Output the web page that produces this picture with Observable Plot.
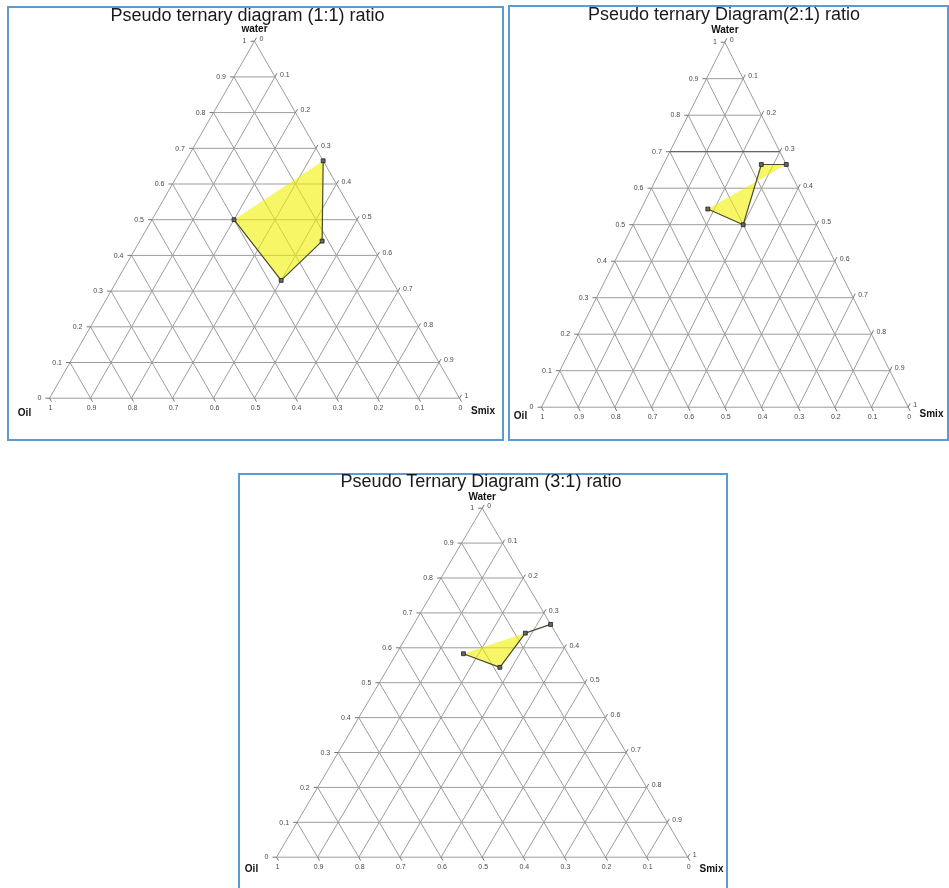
<!DOCTYPE html>
<html>
<head>
<meta charset="utf-8">
<script src="https://cdn.jsdelivr.net/npm/d3@7"></script>
<script src="https://cdn.jsdelivr.net/npm/@observablehq/plot@0.6"></script>
<style>
  html, body { margin: 0; padding: 0; background: #fff; width: 949px; height: 888px; overflow: hidden;
    font-family: "Liberation Sans", Arial, sans-serif; }
  .panel { position: absolute; box-sizing: border-box; border: 2px solid #5b9bd5; background: transparent;
    will-change: transform; }
  .panel svg { position: absolute; left: 0; top: 0; }
  .title { position: absolute; white-space: nowrap; color: #1a1a1a;
    font-size: 18px; line-height: 18px; }
</style>
</head>
<body>
<script>
// Shared tick values for the three composition axes (mass fractions)
const tickValues = [0, 0.1, 0.2, 0.3, 0.4, 0.5, 0.6, 0.7, 0.8, 0.9, 1];
const tickLabels = ["0", "0.1", "0.2", "0.3", "0.4", "0.5", "0.6", "0.7", "0.8", "0.9", "1"];

// Microemulsion region boundary, Smix 1:1
const water11 = [0.665, 0.44, 0.33, 0.50];
const oil11   = [0.0, 0.115, 0.27, 0.30];
const smix11  = [0.335, 0.445, 0.40, 0.20];

// Microemulsion region boundary, Smix 2:1
const water21 = [0.665, 0.665, 0.50, 0.543];
const oil21   = [0.0, 0.068, 0.20, 0.275];
const smix21  = [0.335, 0.267, 0.30, 0.182];

// Microemulsion region boundary, Smix 3:1
const water31 = [0.667, 0.642, 0.544, 0.583];
const oil31   = [0.0, 0.074, 0.185, 0.254];
const smix31  = [0.333, 0.284, 0.271, 0.163];

// Ternary (water, oil, smix) -> cartesian: oil at bottom-left, smix at bottom-right, water on top
function tern(w, o, s) {
  const t = w + o + s;
  return { x: (s + w / 2) / t, y: w / t };
}

function seg(a, b) {
  const p = tern(...a), q = tern(...b);
  return { x1: p.x, y1: p.y, x2: q.x, y2: q.y };
}

const panels = [
  {
    box: { left: 7, top: 6, width: 497, height: 435 },
    xRange: [40, 450], yRange: [389.7, 32.7],
    title: "Pseudo ternary diagram (1:1) ratio", titleX: 238.5, titleTop: -2.24,
    waterName: "water", water: water11, oil: oil11, smix: smix11,
    lab: { top: -12, oil: [-25, 15], smix: [23.5, 13] }
  },
  {
    box: { left: 508, top: 5, width: 441, height: 436 },
    xRange: [31, 397.7], yRange: [399.7, 34.7],
    title: "Pseudo ternary Diagram(2:1) ratio", titleX: 214, titleTop: -1.54,
    waterName: "Water", water: water21, oil: oil21, smix: smix21,
    darkWater: [0.7],
    lab: { top: -12, oil: [-21, 9], smix: [23.3, 7] }
  },
  {
    box: { left: 238, top: 473, width: 490, height: 420 },
    xRange: [36, 447.3], yRange: [381.7, 32.7],
    title: "Pseudo Ternary Diagram (3:1) ratio", titleX: 241, titleTop: -2.94,
    waterName: "Water", water: water31, oil: oil31, smix: smix31,
    lab: { top: -11.6, oil: [-25, 12], smix: [23.7, 12] }
  }
];

const gridColor = "#9c9c9c";
const tickColor = "#666";
const labelColor = "#4a4a4a";

for (const cfg of panels) {
  const div = document.createElement("div");
  div.className = "panel";
  Object.assign(div.style, {
    left: cfg.box.left + "px", top: cfg.box.top + "px",
    width: cfg.box.width + "px", height: cfg.box.height + "px"
  });
  document.body.appendChild(div);

  const W = cfg.box.width - 4, H = cfg.box.height - 4;
  const len = 4 / (cfg.xRange[1] - cfg.xRange[0]);

  // grid lines of constant water, smix and oil (t = 0 gives the triangle edges)
  const inner = tickValues.filter(t => t < 1);
  const grid = [
    ...inner.map(t => seg([t, 1 - t, 0], [t, 0, 1 - t])),
    ...inner.map(t => seg([0, 1 - t, t], [1 - t, 0, t])),
    ...inner.map(t => seg([0, t, 1 - t], [1 - t, t, 0]))
  ];
  const dark = (cfg.darkWater || []).map(t => seg([t, 1 - t, 0], [t, 0, 1 - t]));

  // short tick extensions beyond each edge
  const ticks = [
    ...tickValues.map(t => seg([t, 1 - t, 0], [t, 1 - t + len, -len])),
    ...tickValues.map(t => seg([1 - t, 0, t], [1 - t + len, -len, t])),
    ...tickValues.map(t => seg([0, t, 1 - t], [-len, t, 1 - t + len]))
  ];

  const leftPts = tickValues.map((t, i) => ({ ...tern(t, 1 - t, 0), label: tickLabels[i] }));
  const rightPts = tickValues.map((t, i) => ({ ...tern(1 - t, 0, t), label: tickLabels[i] }));
  const bottomPts = tickValues.map((t, i) => ({ ...tern(0, t, 1 - t), label: tickLabels[i] }));

  const pts = cfg.water.map((w, i) => tern(w, cfg.oil[i], cfg.smix[i]));

  const apex = tern(1, 0, 0), oilCorner = tern(0, 1, 0), smixCorner = tern(0, 0, 1);

  const tickText = { fontSize: 7, fill: labelColor };
  const nameText = { fontSize: 10, fontWeight: "bold", fill: "#111", textAnchor: "middle" };

  const svg = Plot.plot({
    width: W, height: H,
    x: { domain: [0, 1], range: cfg.xRange, axis: null },
    y: { domain: [0, 1], range: cfg.yRange, axis: null },
    style: { background: "transparent", fontFamily: "'Liberation Sans', Arial, sans-serif", overflow: "visible" },
    marks: [
      Plot.link(grid, { x1: "x1", y1: "y1", x2: "x2", y2: "y2", stroke: gridColor, strokeWidth: 1 }),
      Plot.link(dark, { x1: "x1", y1: "y1", x2: "x2", y2: "y2", stroke: "#555", strokeWidth: 1 }),
      Plot.link(ticks, { x1: "x1", y1: "y1", x2: "x2", y2: "y2", stroke: tickColor, strokeWidth: 0.9 }),
      Plot.text(leftPts, { x: "x", y: "y", text: "label", dx: -8, textAnchor: "end", ...tickText }),
      Plot.text(rightPts, { x: "x", y: "y", text: "label", dx: 5, dy: -2.5, textAnchor: "start", ...tickText }),
      Plot.text(bottomPts, { x: "x", y: "y", text: "label", dx: 1, dy: 10, textAnchor: "middle", ...tickText }),
      Plot.text([apex], { x: "x", y: "y", text: () => cfg.waterName, dy: cfg.lab.top, ...nameText }),
      Plot.text([oilCorner], { x: "x", y: "y", text: () => "Oil", dx: cfg.lab.oil[0], dy: cfg.lab.oil[1], ...nameText }),
      Plot.text([smixCorner], { x: "x", y: "y", text: () => "Smix", dx: cfg.lab.smix[0], dy: cfg.lab.smix[1], ...nameText }),
      // microemulsion region
      Plot.line(pts, { x: "x", y: "y", fill: "#f0f000", fillOpacity: 0.6, stroke: "none" }),
      Plot.line(pts, { x: "x", y: "y", stroke: "#4a4a30", strokeWidth: 1.2 }),
      Plot.dot(pts, { x: "x", y: "y", symbol: "square", r: 2.2, fill: "#666", stroke: "#222", strokeWidth: 0.8 })
    ]
  });
  div.appendChild(svg);

  const title = document.createElement("div");
  title.className = "title";
  title.textContent = cfg.title;
  Object.assign(title.style, {
    left: cfg.titleX + "px", top: cfg.titleTop + "px",
    transform: "translateX(-50%)"
  });
  div.appendChild(title);
}
</script>
</body>
</html>
